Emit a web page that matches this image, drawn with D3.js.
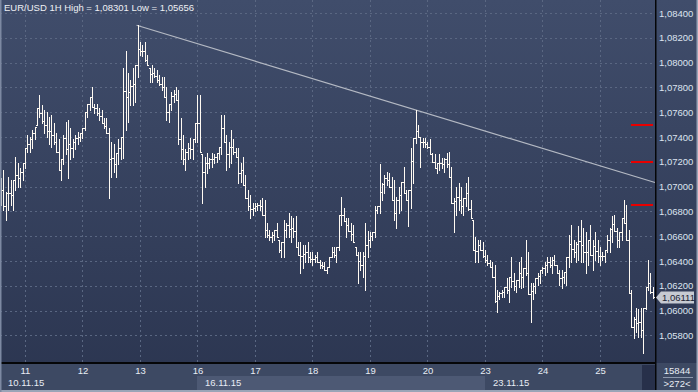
<!DOCTYPE html>
<html>
<head>
<meta charset="utf-8">
<script src="https://cdn.jsdelivr.net/npm/d3@7"></script>
<style>
body { margin: 0; background: #2c3650; }
svg { display: block; font-family: "Liberation Sans", Arial, sans-serif; }
</style>
</head>
<body>
<svg id="chart" width="698" height="392"></svg>
<script>
const SYMBOL = "EUR/USD";
const PERIOD = "1H";
// trading days shown (weekends skipped), first bar is 10.11 14:00
const dayLabels = ["10", "11", "12", "13", "16", "17", "18", "19", "20", "23", "24", "25"];
const firstBarHour = 14;
const weekLabels = ["10.11.15", "16.11.15", "23.11.15"];
const weekFirstDay = ["10", "16", "23"];
const yTicks = [1.058, 1.060, 1.062, 1.064, 1.066, 1.068, 1.070, 1.072, 1.074, 1.076, 1.078, 1.080, 1.082, 1.084];
const levels = [1.0750, 1.0720, 1.0685];
// trend line joins the highs of these two bars
const trendBars = [57, 173];
const volumeText = "15844";
const barsText = ">272<";

const opens = [
1.0693,1.0697,1.0684,1.0695,1.0695,1.0693,1.0705,1.0709,1.0707,1.0712,
1.0719,1.0731,1.0734,1.0738,1.0743,1.0750,1.0763,1.0759,1.0753,1.0750,
1.0745,1.0745,1.0742,1.0736,1.0728,1.0713,1.0722,1.0739,1.0730,1.0734,
1.0731,1.0736,1.0739,1.0740,1.0743,1.0747,1.0760,1.0767,1.0772,1.0764,
1.0763,1.0759,1.0757,1.0751,1.0749,1.0743,1.0722,1.0723,1.0718,1.0727,
1.0731,1.0740,1.0777,1.0772,1.0776,1.0781,1.0783,1.0798,1.0811,1.0809,
1.0809,1.0802,1.0796,1.0791,1.0792,1.0789,1.0786,1.0783,1.0780,1.0772,
1.0760,1.0767,1.0773,1.0775,1.0770,1.0738,1.0730,1.0722,1.0728,1.0731,
1.0730,1.0738,1.0751,1.0751,1.0726,1.0712,1.0719,1.0719,1.0722,1.0722,
1.0724,1.0727,1.0732,1.0747,1.0736,1.0726,1.0732,1.0732,1.0728,1.0724,
1.0711,1.0713,1.0701,1.0691,1.0684,1.0682,1.0683,1.0684,1.0685,1.0684,
1.0677,1.0665,1.0661,1.0659,1.0661,1.0665,1.0657,1.0649,1.0655,1.0665,
1.0669,1.0666,1.0667,1.0664,1.0651,1.0645,1.0644,1.0646,1.0647,1.0643,
1.0642,1.0642,1.0643,1.0639,1.0637,1.0636,1.0633,1.0635,1.0643,1.0647,
1.0645,1.0651,1.0677,1.0677,1.0672,1.0669,1.0664,1.0662,1.0651,1.0645,
1.0640,1.0637,1.0644,1.0653,1.0657,1.0660,1.0663,1.0681,1.0684,1.0696,
1.0702,1.0707,1.0705,1.0700,1.0689,1.0679,1.0689,1.0693,1.0704,1.0695,
1.0689,1.0697,1.0721,1.0739,1.0745,1.0740,1.0736,1.0736,1.0734,1.0732,
1.0726,1.0720,1.0715,1.0719,1.0719,1.0718,1.0722,1.0718,1.0708,1.0687,
1.0688,1.0692,1.0689,1.0684,1.0691,1.0695,1.0682,1.0673,1.0649,1.0648,
1.0653,1.0649,1.0644,1.0641,1.0638,1.0635,1.0627,1.0608,1.0612,1.0614,
1.0615,1.0619,1.0617,1.0627,1.0624,1.0620,1.0625,1.0630,1.0627,1.0634,
1.0630,1.0613,1.0616,1.0620,1.0626,1.0628,1.0633,1.0634,1.0637,1.0639,
1.0637,1.0641,1.0637,1.0630,1.0626,1.0627,1.0631,1.0643,1.0654,1.0650,
1.0647,1.0654,1.0656,1.0653,1.0647,1.0647,1.0657,1.0645,1.0652,1.0648,
1.0644,1.0644,1.0644,1.0649,1.0657,1.0666,1.0670,1.0664,1.0657,1.0663,
1.0675,1.0671,1.0657,1.0614,1.0587,1.0593,1.0590,1.0591,1.0584,1.0602,
1.0619,1.0622,1.0615
];
const highs = [
1.0707,1.0713,1.0696,1.0708,1.0705,1.0705,1.0724,1.0719,1.0715,1.0719,
1.0731,1.0742,1.0740,1.0746,1.0748,1.0763,1.0774,1.0766,1.0762,1.0760,
1.0756,1.0758,1.0751,1.0743,1.0738,1.0722,1.0742,1.0752,1.0754,1.0747,
1.0738,1.0742,1.0744,1.0743,1.0747,1.0760,1.0767,1.0772,1.0780,1.0767,
1.0767,1.0763,1.0762,1.0755,1.0755,1.0747,1.0736,1.0734,1.0727,1.0738,
1.0740,1.0796,1.0809,1.0792,1.0786,1.0796,1.0798,1.08301,1.0817,1.0814,
1.0817,1.0806,1.0796,1.0798,1.0796,1.0794,1.0790,1.0788,1.0788,1.0780,
1.0767,1.0776,1.0778,1.0780,1.0778,1.0755,1.0742,1.0730,1.0735,1.0739,
1.0738,1.0751,1.0774,1.0774,1.0726,1.0724,1.0727,1.0723,1.0727,1.0726,
1.0727,1.0732,1.0758,1.0758,1.0742,1.0736,1.0746,1.0738,1.0731,1.0731,
1.0719,1.0724,1.0709,1.0697,1.0693,1.0687,1.0687,1.0687,1.0689,1.0691,
1.0689,1.0671,1.0665,1.0663,1.0665,1.0671,1.0657,1.0655,1.0673,1.0671,
1.0679,1.0676,1.0675,1.0676,1.0655,1.0655,1.0653,1.0653,1.0655,1.0647,
1.0647,1.0645,1.0647,1.0641,1.0639,1.0639,1.0635,1.0643,1.0651,1.0651,
1.0651,1.0677,1.0692,1.0683,1.0675,1.0675,1.0671,1.0669,1.0651,1.0647,
1.0647,1.0647,1.0671,1.0664,1.0663,1.0663,1.0684,1.0684,1.0718,1.0703,
1.0709,1.0712,1.0711,1.0708,1.0705,1.0692,1.0700,1.0704,1.0716,1.0697,
1.0697,1.0731,1.0739,1.0762,1.0750,1.0740,1.0739,1.0739,1.0736,1.0738,
1.0727,1.0726,1.0719,1.0726,1.0723,1.0723,1.0727,1.0728,1.0716,1.0691,
1.0700,1.0703,1.0700,1.0691,1.0703,1.0708,1.0689,1.0673,1.0659,1.0657,
1.0657,1.0655,1.0649,1.0645,1.0641,1.0639,1.0637,1.0617,1.0615,1.0617,
1.0619,1.0626,1.0627,1.0643,1.0630,1.0625,1.0639,1.0643,1.0634,1.0657,
1.0647,1.0622,1.0622,1.0626,1.0630,1.0633,1.0635,1.0639,1.0643,1.0643,
1.0643,1.0645,1.0637,1.0633,1.0633,1.0631,1.0643,1.0661,1.0669,1.0657,
1.0655,1.0668,1.0673,1.0667,1.0663,1.0657,1.0669,1.0657,1.0663,1.0657,
1.0651,1.0647,1.0649,1.0661,1.0667,1.0676,1.0677,1.0667,1.0663,1.0675,
1.0689,1.0685,1.0665,1.0617,1.0595,1.0602,1.0601,1.0602,1.0602,1.0619,
1.0641,1.0630,1.0619
];
const lows = [
1.0685,1.0681,1.0673,1.0681,1.0685,1.0681,1.0697,1.0700,1.0700,1.0705,
1.0715,1.0728,1.0728,1.0731,1.0738,1.0750,1.0756,1.0751,1.0743,1.0740,
1.0734,1.0732,1.0734,1.0728,1.0713,1.0705,1.0718,1.0726,1.0707,1.0722,
1.0724,1.0730,1.0734,1.0737,1.0739,1.0746,1.0756,1.0762,1.0764,1.0759,
1.0758,1.0754,1.0751,1.0747,1.0743,1.0691,1.0708,1.0712,1.0708,1.0718,
1.0722,1.0723,1.0746,1.0752,1.0766,1.0766,1.0768,1.0788,1.0806,1.0805,
1.0801,1.0798,1.0784,1.0784,1.0788,1.0784,1.0782,1.0778,1.0772,1.0754,
1.0752,1.0762,1.0768,1.0770,1.0734,1.0722,1.0718,1.0713,1.0722,1.0723,
1.0722,1.0736,1.0736,1.0728,1.0687,1.0700,1.0711,1.0715,1.0716,1.0719,
1.0720,1.0722,1.0726,1.0736,1.0713,1.0716,1.0719,1.0726,1.0724,1.0703,
1.0704,1.0701,1.0691,1.0681,1.0675,1.0677,1.0680,1.0681,1.0681,1.0677,
1.0659,1.0659,1.0657,1.0655,1.0657,1.0659,1.0647,1.0643,1.0643,1.0659,
1.0659,1.0655,1.0659,1.0651,1.0645,1.0630,1.0634,1.0639,1.0639,1.0639,
1.0637,1.0639,1.0639,1.0634,1.0634,1.0633,1.0630,1.0635,1.0643,1.0643,
1.0639,1.0649,1.0669,1.0672,1.0659,1.0664,1.0657,1.0655,1.0645,1.0622,
1.0633,1.0627,1.0617,1.0643,1.0651,1.0657,1.0659,1.0679,1.0679,1.0689,
1.0695,1.0701,1.0700,1.0689,1.0673,1.0667,1.0679,1.0681,1.0695,1.0689,
1.0668,1.0683,1.0703,1.0735,1.0740,1.0716,1.0732,1.0732,1.0731,1.0726,
1.0720,1.0715,1.0711,1.0713,1.0715,1.0712,1.0716,1.0708,1.0687,1.0663,
1.0677,1.0681,1.0679,1.0677,1.0684,1.0681,1.0675,1.0649,1.0639,1.0639,
1.0649,1.0643,1.0639,1.0637,1.0635,1.0627,1.0607,1.0599,1.0609,1.0611,
1.0611,1.0614,1.0607,1.0619,1.0617,1.0615,1.0619,1.0618,1.0619,1.0629,
1.0613,1.0591,1.0609,1.0614,1.0621,1.0622,1.0630,1.0629,1.0631,1.0635,
1.0630,1.0637,1.0630,1.0621,1.0618,1.0622,1.0621,1.0635,1.0639,1.0643,
1.0639,1.0641,1.0639,1.0639,1.0630,1.0637,1.0645,1.0633,1.0641,1.0639,
1.0637,1.0641,1.0639,1.0647,1.0647,1.0655,1.0664,1.0651,1.0651,1.0657,
1.0671,1.0657,1.0614,1.0587,1.0578,1.0583,1.0579,1.0579,1.05656,1.0601,
1.0617,1.0614,1.0610
];
const closes = [
1.0697,1.0684,1.0695,1.0695,1.0693,1.0705,1.0709,1.0707,1.0712,1.0719,
1.0731,1.0734,1.0738,1.0743,1.0748,1.0763,1.0759,1.0753,1.0750,1.0745,
1.0745,1.0742,1.0736,1.0728,1.0713,1.0722,1.0739,1.0730,1.0734,1.0731,
1.0736,1.0739,1.0740,1.0743,1.0747,1.0760,1.0767,1.0772,1.0764,1.0763,
1.0759,1.0757,1.0751,1.0749,1.0743,1.0722,1.0723,1.0718,1.0727,1.0731,
1.0740,1.0777,1.0772,1.0776,1.0781,1.0783,1.0798,1.0811,1.0809,1.0809,
1.0802,1.0798,1.0791,1.0792,1.0789,1.0786,1.0783,1.0780,1.0772,1.0760,
1.0767,1.0773,1.0775,1.0770,1.0738,1.0730,1.0722,1.0728,1.0731,1.0730,
1.0738,1.0751,1.0751,1.0728,1.0712,1.0719,1.0719,1.0722,1.0722,1.0724,
1.0727,1.0732,1.0747,1.0736,1.0726,1.0732,1.0732,1.0728,1.0724,1.0711,
1.0713,1.0701,1.0691,1.0684,1.0682,1.0683,1.0684,1.0685,1.0684,1.0677,
1.0665,1.0661,1.0659,1.0661,1.0665,1.0659,1.0649,1.0655,1.0665,1.0669,
1.0666,1.0667,1.0664,1.0651,1.0645,1.0644,1.0646,1.0647,1.0643,1.0642,
1.0642,1.0643,1.0639,1.0637,1.0636,1.0633,1.0635,1.0643,1.0647,1.0645,
1.0651,1.0677,1.0677,1.0672,1.0669,1.0664,1.0662,1.0655,1.0645,1.0640,
1.0637,1.0644,1.0653,1.0657,1.0660,1.0663,1.0681,1.0684,1.0696,1.0702,
1.0707,1.0705,1.0700,1.0689,1.0679,1.0689,1.0693,1.0704,1.0695,1.0689,
1.0697,1.0721,1.0739,1.0745,1.0740,1.0736,1.0736,1.0734,1.0732,1.0726,
1.0720,1.0715,1.0719,1.0719,1.0718,1.0722,1.0718,1.0708,1.0687,1.0688,
1.0692,1.0689,1.0684,1.0691,1.0695,1.0682,1.0675,1.0649,1.0648,1.0653,
1.0649,1.0644,1.0641,1.0638,1.0635,1.0627,1.0608,1.0612,1.0614,1.0615,
1.0619,1.0617,1.0627,1.0624,1.0620,1.0625,1.0630,1.0627,1.0634,1.0630,
1.0613,1.0616,1.0620,1.0626,1.0628,1.0633,1.0634,1.0637,1.0639,1.0637,
1.0641,1.0637,1.0630,1.0626,1.0627,1.0631,1.0643,1.0654,1.0650,1.0647,
1.0654,1.0656,1.0653,1.0647,1.0647,1.0657,1.0645,1.0652,1.0648,1.0644,
1.0644,1.0644,1.0649,1.0657,1.0666,1.0670,1.0664,1.0657,1.0663,1.0675,
1.0671,1.0657,1.0614,1.0587,1.0593,1.0590,1.0591,1.0584,1.0602,1.0619,
1.0622,1.0615,1.06111
];

var W = 698, H = 392;
var plotRight = 656, plotBottom = 363;
var fmtPrice = function (v) { return d3.format(".5f")(v).replace(".", ","); };

var bars = opens.map(function (o, i) {
    return {i: i, o: o, h: highs[i], l: lows[i], c: closes[i]};
});

var x = d3.scaleLinear().domain([0, bars.length - 1]).range([1, 652.7]);
var y = d3.scaleLinear().domain([1.058, 1.084]).range([335.4, 13]);

// first bar of each day (except the partial first day)
var dayTicks = d3.range(1, dayLabels.length).map(function (d) { return d * 24 - firstBarHour; });
var dayOfBar = function (i) { return dayLabels[Math.floor((i + firstBarHour) / 24)]; };

var svg = d3.select("#chart");
var defs = svg.append("defs");
var grad = defs.append("linearGradient").attr("id", "bg").attr("x1", 0).attr("y1", 0).attr("x2", 0).attr("y2", 1);
grad.append("stop").attr("offset", "0%").attr("stop-color", "#404d6b");
grad.append("stop").attr("offset", "100%").attr("stop-color", "#2b3550");
defs.append("clipPath").attr("id", "plotClip")
    .append("rect").attr("x", 0).attr("y", 0).attr("width", plotRight).attr("height", plotBottom);

svg.append("rect").attr("width", W).attr("height", H).attr("fill", "url(#bg)");

// grid
var grid = svg.append("g").attr("stroke", "#5a6782").attr("stroke-dasharray", "2,3")
    .attr("shape-rendering", "crispEdges");
grid.selectAll("line.h").data(yTicks).enter().append("line")
    .attr("x1", 0).attr("x2", plotRight)
    .attr("y1", function (d) { return Math.round(y(d)) + 0.5; })
    .attr("y2", function (d) { return Math.round(y(d)) + 0.5; });
grid.selectAll("line.v").data(dayTicks).enter().append("line")
    .attr("y1", 0).attr("y2", plotBottom)
    .attr("x1", function (d) { return Math.round(x(d)) + 0.5; })
    .attr("x2", function (d) { return Math.round(x(d)) + 0.5; });

// trend line through the two highs, extended to the right edge
var t0 = bars[trendBars[0]], t1 = bars[trendBars[1]];
var slope = (t1.h - t0.h) / (t1.i - t0.i);
var tEnd = (plotRight - 1 - x(0)) / (x(1) - x(0));
svg.append("line")
    .attr("x1", x(t0.i) - 1).attr("y1", y(t0.h))
    .attr("x2", x(tEnd)).attr("y2", y(t0.h + slope * (tEnd - t0.i)))
    .attr("stroke", "#b4b9c3").attr("stroke-width", 1.2);

// OHLC bars
var barG = svg.append("g").attr("clip-path", "url(#plotClip)")
    .attr("stroke", "#fffaf2").attr("stroke-width", 1).attr("shape-rendering", "crispEdges").attr("fill", "none");
barG.selectAll("path").data(bars).enter().append("path")
    .attr("d", function (d) {
        var cx = Math.round(x(d.i)) + 0.5;
        var yo = Math.round(y(d.o)) + 0.5, yc = Math.round(y(d.c)) + 0.5;
        return "M" + cx + "," + Math.round(y(d.h)) + "V" + (Math.round(y(d.l)) + 1) +
            "M" + (cx - 1.5) + "," + yo + "H" + cx +
            "M" + cx + "," + yc + "H" + (cx + 1.5);
    });

// red levels
svg.selectAll("rect.level").data(levels).enter().append("rect")
    .attr("x", 631).attr("width", 22).attr("height", 2)
    .attr("y", function (d) { return Math.round(y(d)) - 1; })
    .attr("fill", "#e80000");

// title
var hi = d3.max(highs), lo = d3.min(lows);
svg.append("text").attr("x", 4).attr("y", 11).attr("fill", "#eef0f4").attr("font-size", "9.5px")
    .text(SYMBOL + " " + PERIOD + " High = " + fmtPrice(hi) + " Low = " + fmtPrice(lo));

// bottom panel
var bottom = svg.append("g");
bottom.append("rect").attr("x", 0).attr("y", plotBottom).attr("width", W).attr("height", H - plotBottom).attr("fill", "#3d4963");
var weekStart = weekFirstDay.map(function (d) {
    var k = dayLabels.indexOf(d);
    return k === 0 ? 0 : x(k * 24 - firstBarHour);
});
weekStart.forEach(function (sx, k) {
    var ex = k < weekStart.length - 1 ? weekStart[k + 1] : 642;
    bottom.append("rect").attr("x", Math.round(sx)).attr("y", 376).attr("width", Math.round(ex) - Math.round(sx)).attr("height", 14)
        .attr("fill", k % 2 === 1 ? "#4d5974" : "#3d4963");
    bottom.append("text").attr("x", Math.round(sx) + 8).attr("y", 386).attr("fill", "#e8ecf4").attr("font-size", "9.5px")
        .text(weekLabels[k]);
});
bottom.append("rect").attr("x", 642).attr("y", 365).attr("width", 13).attr("height", 25).attr("fill", "#27304a");

var xAxis = d3.axisBottom(x).tickValues(dayTicks).tickSize(0).tickPadding(4)
    .tickFormat(function (i) { return dayOfBar(i); });
var xg = svg.append("g").attr("transform", "translate(0," + plotBottom + ")").call(xAxis);
xg.select(".domain").remove();
xg.selectAll("text").attr("fill", "#e8ecf4").attr("font-size", "9.5px").attr("font-family", "Liberation Sans, Arial, sans-serif");

// frame lines
svg.append("rect").attr("x", 0).attr("y", plotBottom - 1).attr("width", plotRight).attr("height", 2).attr("fill", "#050608");
svg.append("rect").attr("x", plotRight - 1).attr("y", 0).attr("width", 1.5).attr("height", H).attr("fill", "#050608");

// right price axis
var yAxis = d3.axisRight(y).tickValues(yTicks).tickSize(0).tickPadding(3).tickFormat(fmtPrice);
var yg = svg.append("g").attr("transform", "translate(" + plotRight + ",0)").call(yAxis);
yg.select(".domain").remove();
yg.selectAll("text").attr("fill", "#dde4f0").attr("font-size", "9.5px").attr("font-family", "Liberation Sans, Arial, sans-serif");

// current price tag
var last = bars[bars.length - 1];
var py = Math.round(y(last.c)) + 0.5;
svg.append("path")
    .attr("d", "M" + plotRight + "," + py + "L" + (plotRight + 5) + "," + (py - 6) + "H694V" + (py + 6) + "H" + (plotRight + 5) + "Z")
    .attr("fill", "#c6cad2");
svg.append("text").attr("x", plotRight + 6).attr("y", py + 3.5).attr("fill", "#1b2232").attr("font-size", "9.5px")
    .text(fmtPrice(last.c));

// counters at bottom right
svg.append("text").attr("x", 677).attr("y", 374).attr("text-anchor", "middle").attr("fill", "#e8ecf4").attr("font-size", "9.5px").text(volumeText);
svg.append("line").attr("x1", 663).attr("x2", 693).attr("y1", 377.5).attr("y2", 377.5).attr("stroke", "#8d98ad");
svg.append("text").attr("x", 677).attr("y", 387).attr("text-anchor", "middle").attr("fill", "#e8ecf4").attr("font-size", "9.5px").text(barsText);

// outer border
svg.append("rect").attr("x", 0).attr("y", H - 2).attr("width", W).attr("height", 2).attr("fill", "#9aa4b7");
svg.append("rect").attr("x", 0).attr("y", 0).attr("width", 1.5).attr("height", H).attr("fill", "#7d89a2");
svg.append("rect").attr("x", W - 1.5).attr("y", 0).attr("width", 1.5).attr("height", H).attr("fill", "#9aa4b7");
</script>
</body>
</html>
